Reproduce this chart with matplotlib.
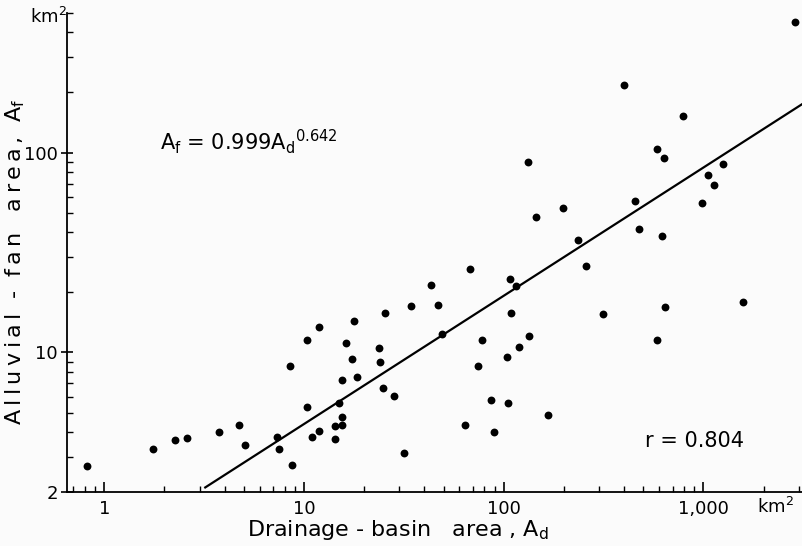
import matplotlib
matplotlib.use("Agg")
import matplotlib.pyplot as plt
from matplotlib.ticker import FixedLocator, NullFormatter
import numpy as np

plt.rcParams["font.family"] = ["DejaVu Sans"]
plt.rcParams["mathtext.default"] = "regular"

# drainage-basin area A_d (km2) and alluvial-fan area A_f (km2)
drainage_area = [
    0.82, 1.76, 2.25, 2.59, 3.76, 4.71, 5.05, 7.32, 7.49, 8.54,
    8.73, 10.3, 10.4, 10.9, 11.9, 11.9, 14.3, 14.3, 14.9, 15.4,
    15.4, 15.4, 16.2, 17.4, 17.7, 18.5, 23.8, 24.1, 24.9, 25.4,
    28.1, 31.7, 34.2, 43.2, 46.7, 49.3, 63.7, 68.0, 74.3, 77.6,
    86.5, 89.4, 104, 105, 108, 109, 115, 119, 132, 134,
    145, 167, 199, 236, 258, 314, 399, 455, 476, 585,
    585, 618, 632, 639, 787, 979, 1057, 1127, 1259, 1582,
    2884,
]
fan_area = [
    2.69, 3.28, 3.65, 3.71, 4.00, 4.32, 3.43, 3.79, 3.30, 8.58,
    2.73, 11.6, 5.30, 3.79, 13.4, 4.03, 4.28, 3.68, 5.60, 4.73,
    4.32, 7.31, 11.2, 9.27, 14.4, 7.54, 10.5, 8.92, 6.62, 15.7,
    6.04, 3.13, 17.1, 21.7, 17.2, 12.3, 4.35, 26.0, 8.52, 11.6,
    5.77, 4.00, 9.48, 5.56, 23.2, 15.8, 21.5, 10.6, 90.2, 12.1,
    47.5, 4.84, 52.8, 36.4, 27.2, 15.6, 219, 57.5, 41.7, 11.6,
    104, 38.4, 94.4, 16.8, 153, 55.7, 76.9, 69.0, 87.5, 17.9,
    452,
]

# regression A_f = 0.999 A_d^0.642, r = 0.804
coef, expo, r_value = 0.999, 0.642, 0.804
fit_range = [3.2, 3150]

x_major = [1, 10, 100, 1000]
x_major_labels = ["1", "10", "100", "1,000"]
y_major = [2, 10, 100]
y_major_labels = ["2", "10", "100"]


def spaced(word):
    # letter-spaced lettering like the stencil text of the original
    return "\u2009".join(word)


W, H = 803, 546
fig = plt.figure(figsize=(W / 100, H / 100), dpi=100, facecolor="#fbfbfb")
ax = fig.add_axes([67 / W, 1 - 492 / H, 1 - 67 / W, (492 - 13) / H])
ax.set_facecolor("#fbfbfb")

ax.scatter(drainage_area, fan_area, s=32, color="black", zorder=3, linewidths=0)
xf = np.array(fit_range)
ax.plot(xf, coef * xf ** expo, color="black", lw=1.6, zorder=2)

ax.set_xscale("log"); ax.set_yscale("log")
ax.set_xlim(0.65, 3150); ax.set_ylim(2, 500)
for s in ["top", "right"]:
    ax.spines[s].set_visible(False)
for s in ["left", "bottom"]:
    ax.spines[s].set_linewidth(1.3)

ax.xaxis.set_major_locator(FixedLocator(x_major))
ax.set_xticklabels(x_major_labels)
ax.xaxis.set_minor_locator(FixedLocator(
    [0.7, 0.8, 0.9] + [m * d for d in (1, 10, 100) for m in range(2, 10)] + [2000, 3000]))
ax.yaxis.set_major_locator(FixedLocator(y_major))
ax.set_yticklabels(y_major_labels)
ax.yaxis.set_minor_locator(FixedLocator(
    [m * d for d in (1, 10) for m in range(3 if d == 1 else 2, 10)] + [200, 300, 400, 500]))
ax.xaxis.set_minor_formatter(NullFormatter()); ax.yaxis.set_minor_formatter(NullFormatter())
ax.tick_params(axis="x", which="major", direction="in", length=7, width=1.2, labelsize=13, pad=6)
ax.tick_params(axis="x", which="minor", direction="in", length=4, width=1.0)
ax.tick_params(axis="y", which="major", direction="inout", length=9, width=1.2, labelsize=13, pad=2)
ax.tick_params(axis="y", which="minor", direction="in", length=4, width=1.0)

fig.text(775 / W, 1 - 507 / H, "km$^2$", fontsize=13, ha="center", va="center")
fig.text(67 / W, 1 - 17 / H, "km$^2$", fontsize=13, ha="right", va="center")

fig.text(398 / W, 1 - 530 / H, "Drainage - basin   area , A$_d$", fontsize=16,
         ha="center", va="center")
ylab = (spaced("Alluvial") + "  -  " + spaced("fan") + "   " + spaced("area,")
        + "  A$_f$")
fig.text(15 / W, 1 - 262 / H, ylab, fontsize=16, ha="center", va="center", rotation=90)
fig.text(160 / W, 1 - 150 / H, f"A$_f$ = {coef:.3f}A$_d$$^{{{expo}}}$", fontsize=15,
         ha="left", va="baseline")
fig.text(645 / W, 1 - 447 / H, f"r = {r_value}", fontsize=15, ha="left", va="baseline")

fig.savefig("out.png", dpi=100, facecolor=fig.get_facecolor())
